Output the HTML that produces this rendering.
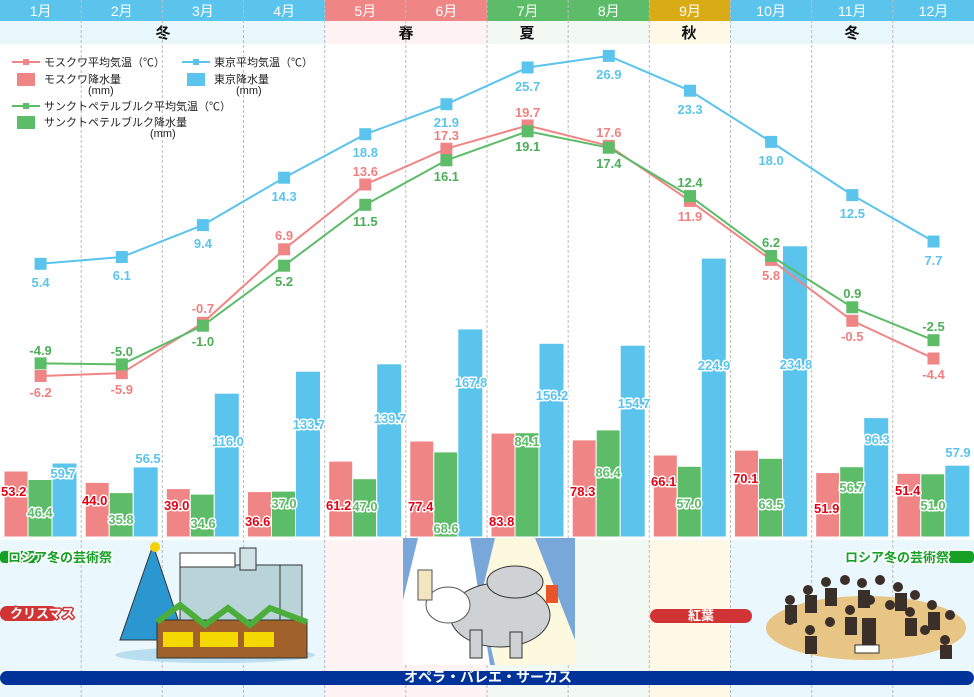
<!DOCTYPE html>
<html><head><meta charset="utf-8"><style>
html,body{margin:0;padding:0;background:#fff}
svg{display:block}
text{font-family:"Liberation Sans","Noto Sans CJK JP",sans-serif}
.m{fill:#fff;font-size:14px;text-anchor:middle}
.s{fill:#111;font-size:15px;font-weight:bold;text-anchor:middle}
.lg{fill:#222;font-size:11px}
.tk{fill:#5bc4ec;font-size:13px;font-weight:bold;text-anchor:middle}
.mo{fill:#f08080;font-size:13px;font-weight:bold;text-anchor:middle}
.sp{fill:#4cae58;font-size:13px;font-weight:bold;text-anchor:middle}
.bl{font-size:13px;font-weight:bold;stroke:#fff;stroke-width:3px;paint-order:stroke;stroke-linejoin:round}
.bm{fill:#e60012}
.bg{fill:#5cbc68;text-anchor:middle}
.bb{fill:#5bc4ec;text-anchor:middle}
.ev{font-size:13px;font-weight:bold;stroke:#fff;stroke-width:3px;paint-order:stroke;stroke-linejoin:round}
</style></head><body>
<svg width="974" height="697" viewBox="0 0 974 697" xmlns="http://www.w3.org/2000/svg">
<!-- header months -->
<rect x="0" y="0" width="325" height="21" fill="#5bc4ec"/>
<rect x="325" y="0" width="162" height="21" fill="#f08585"/>
<rect x="487" y="0" width="162" height="21" fill="#5cbc68"/>
<rect x="649" y="0" width="81" height="21" fill="#d9ab14"/>
<rect x="730" y="0" width="244" height="21" fill="#5bc4ec"/>
<!-- season row -->
<rect x="0" y="21" width="325" height="23" fill="#e8f7fc"/>
<rect x="325" y="21" width="162" height="23" fill="#fff2f2"/>
<rect x="487" y="21" width="162" height="23" fill="#f2f9f2"/>
<rect x="649" y="21" width="81" height="23" fill="#fef8e6"/>
<rect x="730" y="21" width="244" height="23" fill="#e8f7fc"/>
<!-- bottom bg -->
<rect x="0" y="540" width="325" height="157" fill="#eaf7fc"/>
<rect x="325" y="540" width="162" height="157" fill="#fff3f3"/>
<rect x="487" y="540" width="162" height="157" fill="#f2f9f2"/>
<rect x="649" y="540" width="81" height="157" fill="#fef8e6"/>
<rect x="730" y="540" width="244" height="157" fill="#eaf7fc"/>

<text class="m" x="40.6" y="16">1月</text><text class="m" x="121.8" y="16">2月</text><text class="m" x="202.9" y="16">3月</text><text class="m" x="284.1" y="16">4月</text><text class="m" x="365.3" y="16">5月</text><text class="m" x="446.4" y="16">6月</text><text class="m" x="527.6" y="16">7月</text><text class="m" x="608.8" y="16">8月</text><text class="m" x="690" y="16">9月</text><text class="m" x="771.1" y="16">10月</text><text class="m" x="852.3" y="16">11月</text><text class="m" x="933.5" y="16">12月</text>
<text class="s" x="163" y="38">冬</text><text class="s" x="406" y="38">春</text><text class="s" x="527" y="38">夏</text><text class="s" x="689" y="38">秋</text><text class="s" x="852" y="38">冬</text>

<!-- dashed grid -->
<g stroke="#bbb" stroke-dasharray="3,2" stroke-width="1">
<line x1="81.2" y1="0" x2="81.2" y2="697"/><line x1="162.3" y1="0" x2="162.3" y2="697"/><line x1="243.5" y1="0" x2="243.5" y2="697"/><line x1="324.7" y1="0" x2="324.7" y2="697"/><line x1="405.8" y1="0" x2="405.8" y2="697"/><line x1="487" y1="0" x2="487" y2="697"/><line x1="568.2" y1="0" x2="568.2" y2="697"/><line x1="649.3" y1="0" x2="649.3" y2="697"/><line x1="730.5" y1="0" x2="730.5" y2="697"/><line x1="811.7" y1="0" x2="811.7" y2="697"/><line x1="892.8" y1="0" x2="892.8" y2="697"/>
</g>

<!-- legend -->
<line x1="12" y1="62" x2="40" y2="62" stroke="#f08585" stroke-width="2"/><rect x="23" y="59" width="6" height="6" fill="#f08585"/>
<text class="lg" x="44" y="66">モスクワ平均気温（℃）</text>
<rect x="17" y="73" width="18" height="13" fill="#f08585"/>
<text class="lg" x="44" y="83">モスクワ降水量</text><text class="lg" x="88" y="94">(mm)</text>
<line x1="182" y1="62" x2="210" y2="62" stroke="#5bc4ec" stroke-width="2"/><rect x="193" y="59" width="6" height="6" fill="#5bc4ec"/>
<text class="lg" x="214" y="66">東京平均気温（℃）</text>
<rect x="187" y="73" width="18" height="13" fill="#5bc4ec"/>
<text class="lg" x="214" y="83">東京降水量</text><text class="lg" x="236" y="94">(mm)</text>
<line x1="12" y1="106" x2="40" y2="106" stroke="#5cbc68" stroke-width="2"/><rect x="23" y="103" width="6" height="6" fill="#5cbc68"/>
<text class="lg" x="44" y="110">サンクトペテルブルク平均気温（℃）</text>
<rect x="17" y="116" width="18" height="13" fill="#5cbc68"/>
<text class="lg" x="44" y="126">サンクトペテルブルク降水量</text><text class="lg" x="150" y="137">(mm)</text>

<!-- bars -->
<g stroke="#fff" stroke-width="1">
<g fill="#f08585">
<rect x="4" y="471" width="24" height="66"/><rect x="85.2" y="482.4" width="24" height="54.6"/><rect x="166.3" y="488.6" width="24" height="48.4"/><rect x="247.5" y="491.6" width="24" height="45.4"/><rect x="328.7" y="461.1" width="24" height="75.9"/><rect x="409.8" y="441" width="24" height="96"/><rect x="491" y="433.1" width="24" height="103.9"/><rect x="572.2" y="439.9" width="24" height="97.1"/><rect x="653.3" y="455" width="24" height="82"/><rect x="734.5" y="450.1" width="24" height="86.9"/><rect x="815.7" y="472.6" width="24" height="64.4"/><rect x="896.8" y="473.3" width="24" height="63.7"/>
</g>
<g fill="#5cbc68">
<rect x="28" y="479.5" width="24" height="57.5"/><rect x="109.2" y="492.6" width="24" height="44.4"/><rect x="190.3" y="494.1" width="24" height="42.9"/><rect x="271.5" y="491.1" width="24" height="45.9"/><rect x="352.7" y="478.7" width="24" height="58.3"/><rect x="433.8" y="451.9" width="24" height="85.1"/><rect x="515" y="432.7" width="24" height="104.3"/><rect x="596.2" y="429.9" width="24" height="107.1"/><rect x="677.3" y="466.3" width="24" height="70.7"/><rect x="758.5" y="458.3" width="24" height="78.7"/><rect x="839.7" y="466.7" width="24" height="70.3"/><rect x="920.8" y="473.8" width="24" height="63.2"/>
</g>
<g fill="#5bc4ec">
<rect x="52" y="463" width="25" height="74"/><rect x="133.2" y="466.9" width="25" height="70.1"/><rect x="214.3" y="393.2" width="25" height="143.8"/><rect x="295.5" y="371.2" width="25" height="165.8"/><rect x="376.7" y="363.8" width="25" height="173.2"/><rect x="457.8" y="328.9" width="25" height="208.1"/><rect x="539" y="343.3" width="25" height="193.7"/><rect x="620.2" y="345.2" width="25" height="191.8"/><rect x="701.3" y="258.1" width="25" height="278.9"/><rect x="782.5" y="245.8" width="25" height="291.2"/><rect x="863.7" y="417.6" width="25" height="119.4"/><rect x="944.8" y="465.2" width="25" height="71.8"/>
</g>
</g>

<!-- bar labels -->
<g class="bl">
<g class="bm">
<text x="1" y="496">53.2</text><text x="82" y="505">44.0</text><text x="164" y="510">39.0</text><text x="245" y="526">36.6</text><text x="326" y="510">61.2</text><text x="408" y="511">77.4</text><text x="489" y="526">83.8</text><text x="570" y="496">78.3</text><text x="651" y="486">66.1</text><text x="733" y="483">70.1</text><text x="814" y="513">51.9</text><text x="895" y="495">51.4</text>
</g>
<g class="bg">
<text x="40" y="517">46.4</text><text x="121" y="524">35.8</text><text x="203" y="528">34.6</text><text x="284" y="508">37.0</text><text x="365" y="511">47.0</text><text x="446" y="533">68.6</text><text x="527" y="446">84.1</text><text x="608" y="477">86.4</text><text x="689" y="508">57.0</text><text x="771" y="509">63.5</text><text x="852" y="492">56.7</text><text x="933" y="510">51.0</text>
</g>
<g class="bb">
<text x="63" y="478">59.7</text><text x="148" y="463">56.5</text><text x="228" y="446">116.0</text><text x="309" y="429">133.7</text><text x="390" y="423">139.7</text><text x="471" y="387">167.8</text><text x="552" y="400">156.2</text><text x="634" y="408">154.7</text><text x="714" y="370">224.9</text><text x="796" y="369">234.8</text><text x="877" y="444">96.3</text><text x="958" y="457">57.9</text>
</g>
</g>

<!-- lines -->
<polyline fill="none" stroke="#5bc4ec" stroke-width="2" points="40.6,263.8 121.8,257 202.9,225.1 284.1,177.7 365.3,134.2 446.4,104.2 527.6,67.5 608.8,55.9 690,90.7 771.1,141.9 852.3,195.1 933.5,241.5"/>
<polyline fill="none" stroke="#f08585" stroke-width="2" points="40.6,376 121.8,373.1 202.9,322.8 284.1,249.3 365.3,184.5 446.4,148.7 527.6,125.5 608.8,145.8 690,200.9 771.1,259.9 852.3,320.8 933.5,358.5"/>
<polyline fill="none" stroke="#5cbc68" stroke-width="2" points="40.6,363.4 121.8,364.4 202.9,325.7 284.1,265.7 365.3,204.8 446.4,160.3 527.6,131.3 608.8,147.7 690,196.1 771.1,256 852.3,307.3 933.5,340.2"/>
<g fill="#5bc4ec"><rect x="34.6" y="257.8" width="12" height="12"/><rect x="115.8" y="251" width="12" height="12"/><rect x="196.9" y="219.1" width="12" height="12"/><rect x="278.1" y="171.7" width="12" height="12"/><rect x="359.3" y="128.2" width="12" height="12"/><rect x="440.4" y="98.2" width="12" height="12"/><rect x="521.6" y="61.5" width="12" height="12"/><rect x="602.8" y="49.9" width="12" height="12"/><rect x="684" y="84.7" width="12" height="12"/><rect x="765.1" y="135.9" width="12" height="12"/><rect x="846.3" y="189.1" width="12" height="12"/><rect x="927.5" y="235.5" width="12" height="12"/></g>
<g fill="#f08585"><rect x="34.6" y="370" width="12" height="12"/><rect x="115.8" y="367.1" width="12" height="12"/><rect x="196.9" y="316.8" width="12" height="12"/><rect x="278.1" y="243.3" width="12" height="12"/><rect x="359.3" y="178.5" width="12" height="12"/><rect x="440.4" y="142.7" width="12" height="12"/><rect x="521.6" y="119.5" width="12" height="12"/><rect x="602.8" y="139.8" width="12" height="12"/><rect x="684" y="194.9" width="12" height="12"/><rect x="765.1" y="253.9" width="12" height="12"/><rect x="846.3" y="314.8" width="12" height="12"/><rect x="927.5" y="352.5" width="12" height="12"/></g>
<g fill="#5cbc68"><rect x="34.6" y="357.4" width="12" height="12"/><rect x="115.8" y="358.4" width="12" height="12"/><rect x="196.9" y="319.7" width="12" height="12"/><rect x="278.1" y="259.7" width="12" height="12"/><rect x="359.3" y="198.8" width="12" height="12"/><rect x="440.4" y="154.3" width="12" height="12"/><rect x="521.6" y="125.3" width="12" height="12"/><rect x="602.8" y="141.7" width="12" height="12"/><rect x="684" y="190.1" width="12" height="12"/><rect x="765.1" y="250" width="12" height="12"/><rect x="846.3" y="301.3" width="12" height="12"/><rect x="927.5" y="334.2" width="12" height="12"/></g>

<!-- temp labels -->
<text class="tk" x="40.6" y="287">5.4</text><text class="tk" x="121.8" y="280">6.1</text><text class="tk" x="202.9" y="248">9.4</text><text class="tk" x="284.1" y="201">14.3</text><text class="tk" x="365.3" y="157">18.8</text><text class="tk" x="446.4" y="127">21.9</text><text class="tk" x="527.6" y="91">25.7</text><text class="tk" x="608.8" y="79">26.9</text><text class="tk" x="690" y="114">23.3</text><text class="tk" x="771.1" y="165">18.0</text><text class="tk" x="852.3" y="218">12.5</text><text class="tk" x="933.5" y="265">7.7</text>
<text class="mo" x="40.6" y="397">-6.2</text><text class="mo" x="121.8" y="394">-5.9</text><text class="mo" x="202.9" y="313">-0.7</text><text class="mo" x="284.1" y="240">6.9</text><text class="mo" x="365.3" y="176">13.6</text><text class="mo" x="446.4" y="140">17.3</text><text class="mo" x="527.6" y="117">19.7</text><text class="mo" x="608.8" y="137">17.6</text><text class="mo" x="690" y="221">11.9</text><text class="mo" x="771.1" y="280">5.8</text><text class="mo" x="852.3" y="341">-0.5</text><text class="mo" x="933.5" y="379">-4.4</text>
<text class="sp" x="40.6" y="355">-4.9</text><text class="sp" x="121.8" y="356">-5.0</text><text class="sp" x="202.9" y="346">-1.0</text><text class="sp" x="284.1" y="286">5.2</text><text class="sp" x="365.3" y="226">11.5</text><text class="sp" x="446.4" y="181">16.1</text><text class="sp" x="527.6" y="151">19.1</text><text class="sp" x="608.8" y="168">17.4</text><text class="sp" x="690" y="187">12.4</text><text class="sp" x="771.1" y="247">6.2</text><text class="sp" x="852.3" y="298">0.9</text><text class="sp" x="933.5" y="331">-2.5</text>

<!-- Christmas illustration -->
<ellipse cx="215" cy="655" rx="100" ry="8" fill="#b8def0"/>
<rect x="180" y="565" width="120" height="65" fill="#b9d4d8" stroke="#333"/>
<rect x="180" y="553" width="55" height="14" fill="#fff" stroke="#333"/>
<rect x="240" y="548" width="16" height="22" fill="#cfe3e6" stroke="#333"/>
<rect x="280" y="565" width="22" height="60" fill="#b9d4d8" stroke="#333"/>
<polygon points="153,545 185,640 120,640" fill="#2a97d0" stroke="#333"/>
<circle cx="155" cy="547" r="5" fill="#f5d000"/>
<rect x="157" y="620" width="150" height="38" fill="#a0612a" stroke="#333"/>
<polyline points="157,622 180,605 205,625 228,608 250,625 270,608 307,622" fill="none" stroke="#4cae3a" stroke-width="6"/>
<rect x="163" y="632" width="30" height="15" fill="#f5d800"/><rect x="200" y="632" width="38" height="15" fill="#f5d800"/><rect x="244" y="632" width="30" height="15" fill="#f5d800"/>

<!-- opera illustration -->
<rect x="403" y="538" width="172" height="127" fill="#7aa7d9"/>
<polygon points="418,538 470,538 490,665 403,665 403,600" fill="#fff"/>
<polygon points="495,538 535,538 575,640 575,665 495,665 480,600" fill="#fdf9df"/>
<ellipse cx="500" cy="615" rx="50" ry="32" fill="#cfd2d4" stroke="#333"/>
<ellipse cx="515" cy="582" rx="28" ry="16" fill="#cfd2d4" stroke="#333"/>
<rect x="470" y="630" width="12" height="28" fill="#cfd2d4" stroke="#333"/><rect x="510" y="632" width="12" height="26" fill="#cfd2d4" stroke="#333"/>
<ellipse cx="448" cy="605" rx="22" ry="18" fill="#fff" stroke="#555"/>
<rect x="418" y="570" width="14" height="30" fill="#f1e6c0" stroke="#555"/>
<rect x="546" y="585" width="12" height="18" fill="#e8552c"/>

<!-- orchestra -->
<ellipse cx="866" cy="628" rx="100" ry="32" fill="#e6c585"/>
<g fill="#3b2f2a">
<circle cx="790" cy="600" r="5"/><circle cx="808" cy="590" r="5"/><circle cx="826" cy="582" r="5"/><circle cx="845" cy="580" r="5"/><circle cx="862" cy="583" r="5"/><circle cx="880" cy="580" r="5"/><circle cx="898" cy="587" r="5"/><circle cx="915" cy="595" r="5"/><circle cx="932" cy="605" r="5"/><circle cx="950" cy="615" r="5"/>
<circle cx="790" cy="620" r="5"/><circle cx="810" cy="630" r="5"/><circle cx="830" cy="622" r="5"/><circle cx="850" cy="610" r="5"/><circle cx="870" cy="600" r="5"/><circle cx="890" cy="605" r="5"/><circle cx="910" cy="612" r="5"/><circle cx="925" cy="630" r="5"/><circle cx="945" cy="640" r="5"/>
<rect x="785" y="605" width="12" height="18"/><rect x="805" y="595" width="12" height="18"/><rect x="825" y="588" width="12" height="18"/><rect x="858" y="590" width="12" height="18"/><rect x="895" y="593" width="12" height="18"/><rect x="928" y="612" width="12" height="18"/><rect x="805" y="636" width="12" height="18"/><rect x="845" y="617" width="12" height="18"/><rect x="905" y="618" width="12" height="18"/><rect x="940" y="645" width="12" height="14"/><rect x="862" y="618" width="14" height="28"/>
</g>
<rect x="855" y="645" width="24" height="8" fill="#fff" stroke="#333"/>

<!-- events -->
<rect x="0" y="551" width="40" height="12" rx="4" fill="#16a025"/>
<text class="ev" x="8" y="562" fill="#16a025">ロシア冬の芸術祭</text>
<rect x="944" y="551" width="30" height="12" rx="4" fill="#16a025"/>
<text class="ev" x="845" y="562" fill="#16a025">ロシア冬の芸術祭</text>
<rect x="0" y="606" width="58" height="15" rx="7" fill="#d03434"/>
<text class="ev" x="10" y="618" fill="#fff" style="stroke:#d03434">クリスマス</text>
<rect x="650" y="609" width="102" height="14" rx="7" fill="#d03434"/>
<text x="701" y="620" fill="#fff" font-size="13" font-weight="bold" text-anchor="middle">紅葉</text>
<rect x="0" y="671" width="974" height="14" rx="7" fill="#003399"/>
<text x="488" y="682" fill="#fff" font-size="14" font-weight="bold" text-anchor="middle">オペラ・バレエ・サーカス</text>
</svg>
</body></html>
